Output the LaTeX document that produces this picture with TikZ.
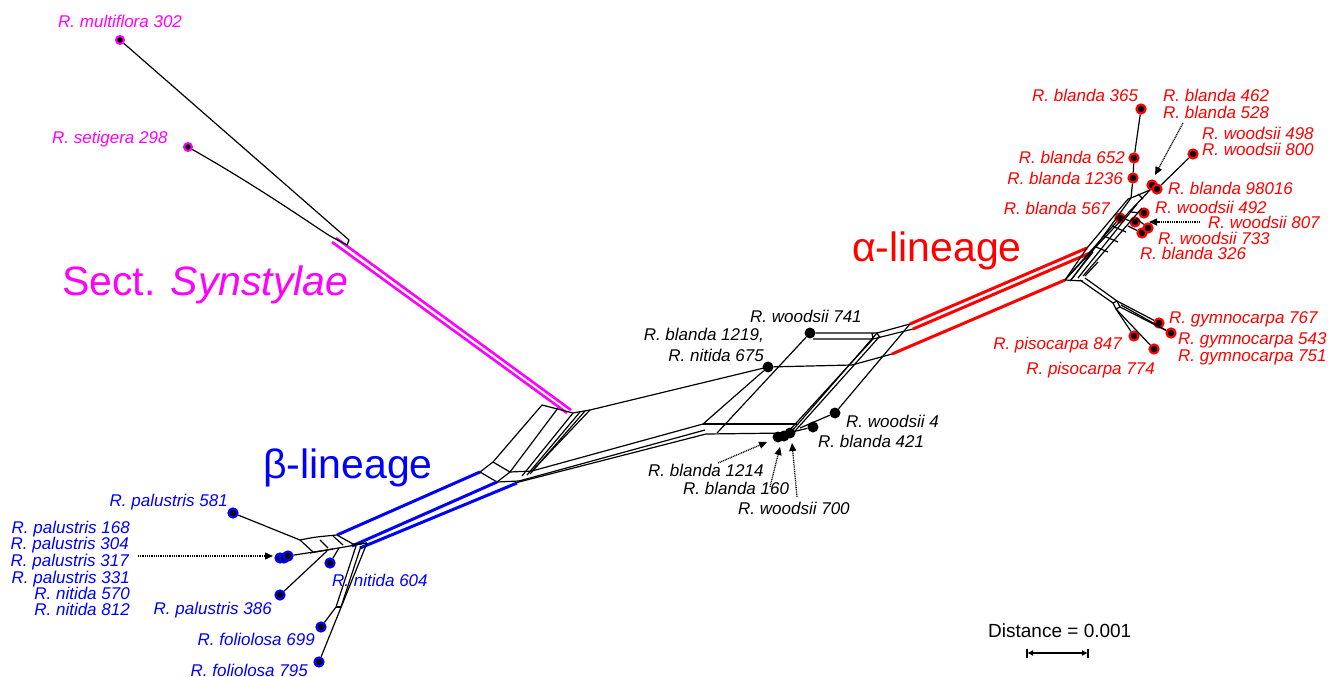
\documentclass[tikz,border=0pt]{standalone}
\usepackage{fontspec}
\setmainfont{Liberation Sans}
\usetikzlibrary{arrows.meta,calc}
\definecolor{rred}{RGB}{255,0,0}
\definecolor{rblue}{RGB}{0,0,255}
\definecolor{rmag}{RGB}{255,0,255}
\begin{document}
\begin{tikzpicture}[x=1pt,y=-1pt,
  lab/.style={font=\fontsize{17}{17}\selectfont\itshape, inner sep=0pt},
  big/.style={font=\fontsize{41}{41}\selectfont, inner sep=0pt},
  net/.style={line width=1.2pt, black, line join=round},
  redl/.style={line width=3pt, rred},
  bluel/.style={line width=3pt, rblue},
  magl/.style={line width=2.6pt, rmag},
  rdot/.style={circle, fill=black, draw=rred, line width=2.2pt, minimum size=9pt, inner sep=0pt},
  bdot/.style={circle, fill=black, draw=rblue, line width=2.2pt, minimum size=9pt, inner sep=0pt},
  mdot/.style={circle, fill=black, draw=rmag, line width=2pt, minimum size=8pt, inner sep=0pt},
  kdot/.style={circle, fill=black, minimum size=11pt, inner sep=0pt},
  darrow/.style={line width=1.3pt, dash pattern=on 1pt off 0.8pt, -{Triangle[length=8pt,width=7pt]}}
]
\useasboundingbox (0,0) rectangle (1328,677);

% ---------------- Sect. Synstylae ----------------
\draw[magl] (336,238) -- (571,410);
\draw[magl] (332,242) -- (567,413);
\node[mdot] (mul) at (120,40) {};
\node[mdot] (set) at (188,147) {};
\coordinate (sj1) at (349,240);
\coordinate (sj2) at (330,236);
\coordinate (sj3) at (347,245);
\draw[net] (mul) -- (sj1) -- (sj3) -- (sj2);
\draw[net] (set) .. controls (260,188) and (305,220) .. (sj2);
\node[lab, text=rmag, anchor=base west] (lmul) at (58,28) {R. multiflora 302};
\node[lab, text=rmag, anchor=base west] (lset) at (52,143) {R. setigera 298};
\node[big, text=rmag, anchor=base west] (lsyn) at (62,295) {Sect. \textit{Synstylae}};

% ---------------- left parallelogram ----------------
\coordinate (lp1) at (542,405);
\coordinate (lp2) at (573,413);
\coordinate (lp3) at (590,410);
\coordinate (lq1) at (493,462);
\coordinate (lq2) at (480,472);
\coordinate (lq3) at (497,482);
\coordinate (lq4) at (510,472);
\coordinate (lq5) at (532,471);
\coordinate (lq6) at (519,481);
\draw[net] (lp1) -- (lp2) -- (lp3);
\draw[net] (lp1) -- (lq1);
\draw[net] (558,408) -- (lq4);
\draw[net] (lp2) -- (522,476);
\draw[net] (580,412) -- (527,475);
\draw[net] (585,411) -- (530,474);
\draw[net] (lp3) -- (lq5);
\draw[net] (lq1) -- (lq2) -- (lq3) -- (lq6);
\draw[net] (lq1) -- (lq4) -- (lq5);
\draw[net] (lq4) -- (lq3);
% long lines to central box
\coordinate (cl1) at (703,424);
\coordinate (cl2) at (705,430);
\coordinate (cl3) at (706,434);
\draw[net] (lp3) -- (768,367);
\draw[net] (lq5) -- (cl1);
\draw[net] (lq6) -- (cl2);
\draw[net] (515,483) -- (cl3);

% ---------------- central box ----------------
\node[kdot] (w741) at (810,333) {};
\node[kdot] (b1219) at (768,367) {};
\node[kdot] (w4) at (835,413) {};
\node[kdot] (b421) at (813,427) {};
\node[kdot] (b1214) at (778,437) {};
\node[kdot] (b160) at (784,436) {};
\node[kdot] (w700) at (790,433) {};
\coordinate (ct1) at (877,333);
\coordinate (ct2) at (910,324);
\coordinate (ct3) at (873,339);
\coordinate (ct4) at (913,329);
\coordinate (cm1) at (852,365);
\coordinate (cm2) at (892,354);
\draw[net] (w741) -- (ct1) -- (ct2);
\draw[net] (813,339) -- (ct3) -- (ct4);
\draw[net] (b1219) -- (cm1) -- (cm2);
\draw[net] (w741) -- (717,433);
\draw[net] (b1219) -- (cl1);
\draw[net] (cl1) -- (797,424);
\draw[net] (cl3) -- (788,433);
\draw[net] (ct3) -- (787,433);
\draw[net] (ct1) -- (791,432);
\draw[net] (880,336) -- (795,431);
\draw[net] (ct2) -- (w4);
\draw[net] (w4) -- (800,428);
\draw[net] (b421) -- (792,432);
\draw[net] (877,333) -- (880,338);
\draw[net] (872,333) -- (873,339);

\node[lab, anchor=base west] (lw741) at (750,322) {R. woodsii 741};
\node[lab, anchor=base east] (lb1219) at (764,340) {R. blanda 1219,};
\node[lab, anchor=base east] (ln675) at (764,361) {R. nitida 675};
\node[lab, anchor=base west] (lw4) at (846,427) {R. woodsii 4};
\node[lab, anchor=base west] (lb421) at (818,447) {R. blanda 421};
\node[lab, anchor=base west] (lb1214) at (648,476) {R. blanda 1214};
\node[lab, anchor=base west] (lb160) at (683,494) {R. blanda 160};
\node[lab, anchor=base west] (lw700) at (738,514) {R. woodsii 700};
\coordinate (a1s) at (718,463);
\coordinate (a2s) at (770,487);
\coordinate (a3s) at (797,497);
\draw[darrow] (a1s) -- (767,442);
\draw[darrow] (a2s) -- (780,447);
\draw[darrow] (a3s) -- (792,443);

% ---------------- alpha lineage ----------------
\draw[redl] (ct2) -- (1087,248);
\draw[redl] (ct4) -- (1090,253);
\draw[redl] (cm2) -- (1065,280);
\node[big, text=rred, anchor=base west] (lalpha) at (852,261) {α-lineage};

\coordinate (j1) at (1065,280);
\coordinate (j2) at (1087,248);
\coordinate (j3) at (1090,253);
\coordinate (j4) at (1083,281);
\draw[net] (j1) -- (j2);
\draw[net] (j1) -- (j3);
\draw[net] (j1) -- (j4);
\draw[net] (1070,281) -- (1093,252);
% dense network toward the cluster
\node[rdot] (b365) at (1141,109) {};
\node[rdot] (b652) at (1134,158) {};
\node[rdot] (b1236) at (1133,178) {};
\node[rdot] (b567) at (1120,218) {};
\node[rdot] (w800) at (1193,154) {};
\node[rdot] (b98a) at (1152,185) {};
\node[rdot] (b98b) at (1157,189) {};
\node[rdot] (w492) at (1144,213) {};
\node[rdot] (w807) at (1135,222) {};
\node[rdot] (w733a) at (1142,233) {};
\node[rdot] (w733b) at (1148,228) {};
\coordinate (ctop1) at (1131,198);
\coordinate (ctop2) at (1150,190);
\draw[net] (j1) -- (b567);
\draw[net] (1072,279) -- (ctop1);
\draw[net] (1078,278) -- (1137,204);
\draw[net] (1083,276) -- (1142,208);
\draw[net] (j2) -- (1128,199);
\draw[net] (j3) -- (ctop2);
\draw[net] (ctop1) -- (ctop2);
\draw[net] (1128,199) -- (ctop1);
\draw[net] (ctop1) -- (b1236) -- (b652) -- (b365);
\draw[net] (ctop2) -- (b98a);
\draw[net] (b98b) -- (w800);
\draw[net] (1096,247) -- (1108,252);
\draw[net] (1104,236) -- (1118,242);
\draw[net] (1112,226) -- (1126,232);
\draw[net] (1098,262) -- (1085,276);
\draw[net] (b567) -- (w807);
\draw[net] (1130,212) -- (w492);
\draw[net] (1128,226) -- (w733a);
\draw[net] (1136,218) -- (w733b);
\draw[net] (1138,194) -- (1143,199);

% gymnocarpa / pisocarpa branch
\node[rdot] (g767) at (1159,323) {};
\node[rdot] (g543) at (1171,333) {};
\node[rdot] (p847) at (1134,336) {};
\node[rdot] (p774) at (1154,349) {};
\coordinate (gb1) at (1113,303);
\coordinate (gb2) at (1117,301);
\coordinate (gb3) at (1120,307);
\coordinate (gb4) at (1116,309);
\draw[net] (1080,280) -- (gb1);
\draw[net] (1085,278) -- (gb2);
\draw[net] (gb1) -- (gb2) -- (gb3) -- (gb4) -- cycle;
\draw[net] (gb2) -- (g767);
\draw[net] (gb3) -- (g543);
\draw[net] (1121,305) -- (g543);
\draw[net] (gb4) -- (p847);
\draw[net] (gb4) -- (p774);

\node[lab, text=rred, anchor=base west] (lb365) at (1032,101) {R. blanda 365};
\node[lab, text=rred, anchor=base west] (lb462) at (1163,101) {R. blanda 462};
\node[lab, text=rred, anchor=base west] (lb528) at (1163,118) {R. blanda 528};
\node[lab, text=rred, anchor=base west] (lw498) at (1202,139) {R. woodsii 498};
\node[lab, text=rred, anchor=base west] (lw800) at (1202,155) {R. woodsii 800};
\node[lab, text=rred, anchor=base east] (lb652) at (1125,163) {R. blanda 652};
\node[lab, text=rred, anchor=base east] (lb1236) at (1123,184) {R. blanda 1236};
\node[lab, text=rred, anchor=base west] (lb98) at (1168,194) {R. blanda 98016};
\node[lab, text=rred, anchor=base east] (lb567) at (1110,214) {R. blanda 567};
\node[lab, text=rred, anchor=base west] (lw492) at (1155,213) {R. woodsii 492};
\node[lab, text=rred, anchor=base west] (lw807) at (1208,228) {R. woodsii 807};
\node[lab, text=rred, anchor=base west] (lw733) at (1158,244) {R. woodsii 733};
\node[lab, text=rred, anchor=base west] (lb326) at (1140,259) {R. blanda 326};
\node[lab, text=rred, anchor=base west] (lg767) at (1169,323) {R. gymnocarpa 767};
\node[lab, text=rred, anchor=base west] (lg543) at (1178,344) {R. gymnocarpa 543};
\node[lab, text=rred, anchor=base west] (lg751) at (1178,361) {R. gymnocarpa 751};
\node[lab, text=rred, anchor=base east] (lp847) at (1122,349) {R. pisocarpa 847};
\node[lab, text=rred, anchor=base east] (lp774) at (1155,374) {R. pisocarpa 774};
\coordinate (ar1) at (1183,123);
\coordinate (ar2) at (1200,222);
\draw[darrow] (ar1) -- (1155,175);
\draw[darrow] (ar2) -- (1149,222);

% ---------------- beta lineage ----------------
\draw[bluel] (337,535) -- (lq2);
\draw[bluel] (352,546) -- (lq3);
\draw[bluel] (360,548) -- (517,483);
\node[big, text=rblue, anchor=base west] (lbeta) at (263,478) {β-lineage};

\node[bdot] (p581) at (233,513) {};
\node[bdot] (pc1) at (280,558) {};
\node[bdot] (pc2) at (284,558) {};
\node[bdot] (pc3) at (288,556) {};
\node[bdot] (n604) at (330,563) {};
\node[bdot] (p386) at (280,595) {};
\node[bdot] (f699) at (321,627) {};
\node[bdot] (f795) at (319,662) {};
\coordinate (bb1) at (300,540);
\coordinate (bb2) at (337,535);
\coordinate (bb3) at (353,544);
\coordinate (bb4) at (367,543);
\draw[net] (p581) -- (bb1);
\draw[net] (bb1) .. controls (315,537) .. (bb2) -- (bb3) -- (bb4);
\draw[net] (bb1) -- (313,552);
\draw[net] (320,540) -- (328,548);
\draw[net] (333,536) -- (343,545);
\draw[net] (310,553) -- (bb4);
\draw[net] (pc3) -- (333,549);
\draw[net] (p386) -- (327,551);
\draw[net] (n604) -- (339,548);
\draw[net] (f699) -- (336,607) -- (356,546);
\draw[net] (341,607) -- (361,546);
\draw[net] (336,607) -- (341,607);
\draw[net] (f795) -- (bb4);

\node[lab, text=rblue, anchor=base east] (lp581) at (228,506) {R. palustris 581};
\node[lab, text=rblue, anchor=base east] (lp168) at (130,533) {R. palustris 168};
\node[lab, text=rblue, anchor=base east] (lp304) at (129,549) {R. palustris 304};
\node[lab, text=rblue, anchor=base east] (lp317) at (129,566) {R. palustris 317};
\node[lab, text=rblue, anchor=base east] (lp331) at (130,583) {R. palustris 331};
\node[lab, text=rblue, anchor=base east] (ln570) at (130,599) {R. nitida 570};
\node[lab, text=rblue, anchor=base east] (ln812) at (130,615) {R. nitida 812};
\node[lab, text=rblue, anchor=base east] (lp386) at (272,614) {R. palustris 386};
\node[lab, text=rblue, anchor=base west] (ln604) at (332,586) {R. nitida 604};
\node[lab, text=rblue, anchor=base east] (lf699) at (315,645) {R. foliolosa 699};
\node[lab, text=rblue, anchor=base east] (lf795) at (308,676) {R. foliolosa 795};
\coordinate (ab1) at (138,556);
\draw[darrow] (ab1) -- (273,556);

% ---------------- scale bar ----------------
\node[font=\fontsize{19}{19}\selectfont, inner sep=0pt, anchor=base west] (ldist) at (988,637) {Distance = 0.001};
\coordinate (sb1) at (1027,653);
\coordinate (sb2) at (1088,653);
\draw[line width=1.3pt, {Latex[length=6pt,width=6pt]}-{Latex[length=6pt,width=6pt]}] (sb1) -- (sb2);
\draw[line width=1.5pt] ($(sb1)+(0,-4.5)$) -- ($(sb1)+(0,4.5)$);
\draw[line width=1.5pt] ($(sb2)+(0,-4.5)$) -- ($(sb2)+(0,4.5)$);
\end{tikzpicture}
\end{document}
